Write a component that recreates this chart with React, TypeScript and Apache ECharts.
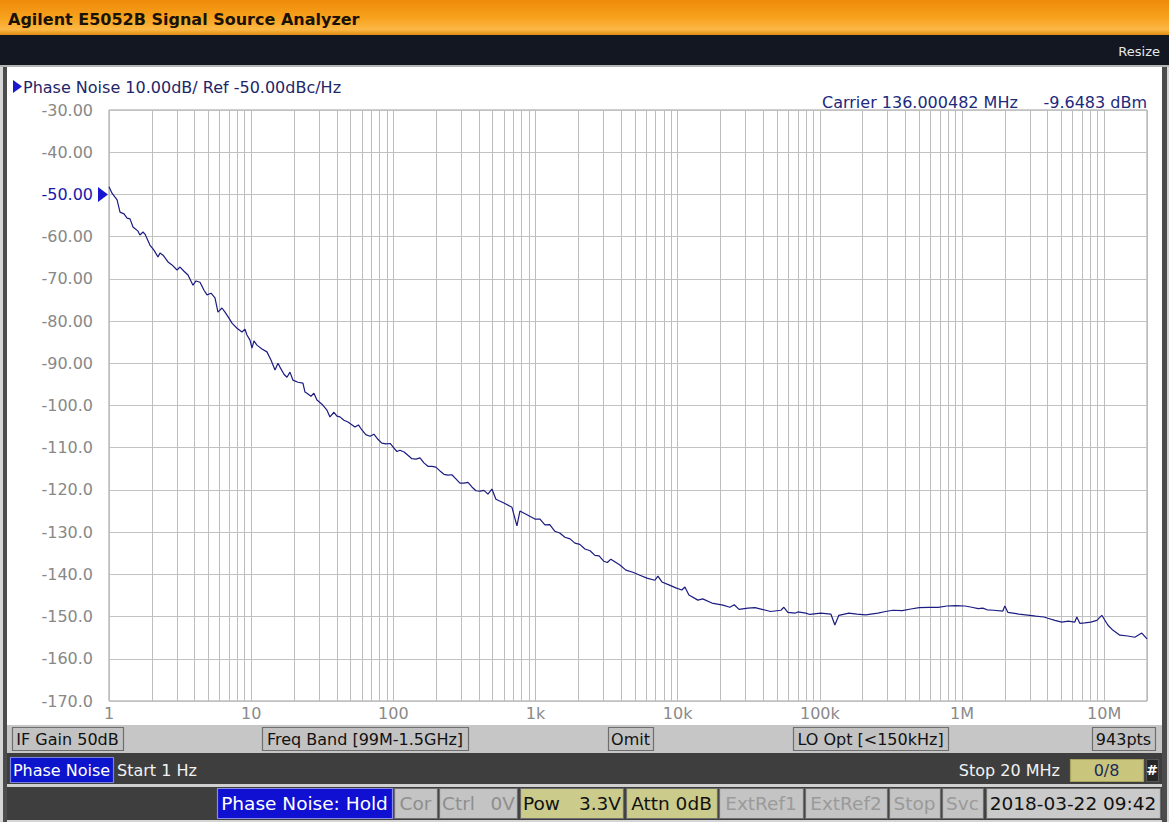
import React, { useEffect, useRef } from 'react';
import * as echarts from 'echarts';

const freqHz = [
  1, 1.05, 1.14, 1.195, 1.275, 1.34, 1.405, 1.475, 1.6, 1.65, 1.735, 1.79, 1.94, 2.07, 2.21, 2.285, 2.4, 2.6, 2.775,
  3.01, 3.16, 3.37, 3.595, 3.895, 4.09, 4.365, 4.66, 4.89, 5.22, 5.565, 5.84, 6.23, 6.545, 6.98, 7.33, 7.95, 8.615,
  9.045, 9.34, 9.81, 10.13, 10.46, 10.98, 11.91, 12.91, 13.78, 14.71, 15.44, 15.94, 17.01, 17.86, 18.75, 19.68, 21.34,
  23.13, 23.89, 24.69, 26.33, 27.64, 29.02, 31.47, 34.13, 35.83, 38.22, 40.12, 42.12, 44.95, 47.94,
  53.7, 56.8, 60.1, 64, 68.5, 73, 77.9, 83, 88.7, 95, 101, 106, 111.3, 119, 126.7, 135, 144.2, 154, 164.1, 175,
  186.8, 199, 212.7, 227, 242.1, 258, 275.5, 294, 313.6, 335, 357, 381, 406.4, 434, 462.7, 493.6, 526.6, 599.5,
  682.3, 740, 776.8, 884.3, 990.4, 1075, 1165, 1260, 1369, 1480, 1610, 1750, 1893, 2050, 2226, 2420, 2617, 2800,
  3027, 3200, 3389, 3923, 4323, 4842, 5423, 6074, 6914, 7259, 7745, 8672, 9712, 10700, 11240, 11990, 13870, 15000,
  17400, 20800, 23290, 25000, 27000, 31170, 35000, 41730, 45000, 53190, 55840, 59570, 66710, 70000, 79700, 85000,
  101600, 119500, 127500, 136000, 160000, 182000, 210000, 255800, 290000, 326200, 380000, 436500, 500000, 584300,
  680000, 781800, 900000, 1046000, 1172000, 1300000, 1401000, 1500000, 1673000, 1936000, 2000000, 2100000, 2508000,
  2999000, 3300000, 3760000, 4013000, 4500000, 5033000, 5600000, 6212000, 6417000, 6735000, 7300000, 8050000,
  8870000, 9620000, 10600000, 11490000, 12880000, 14660000, 16410000, 18380000, 20000000,
];
const phaseNoise = [
  -48.2, -49.7, -51.3, -54.2, -54.6, -55.6, -55.8, -57.7, -58.7, -59.6, -58.9, -59.4, -62.0, -63.2, -64.8, -63.9, -64.4, -66.0, -66.7,
  -67.9, -67.2, -68.2, -69.1, -71.5, -70.5, -70.8, -72.7, -73.8, -73.4, -74.5, -77.9, -76.9, -77.9, -79.3, -80.5, -81.7, -82.6,
  -81.9, -83.3, -84.5, -86.4, -84.7, -85.7, -86.6, -87.3, -89.2, -91.6, -90.0, -90.9, -92.6, -93.3, -92.1, -94.0, -94.5,
  -94.7, -96.8, -97.1, -97.8, -97.1, -98.7, -99.7, -101.1, -102.7, -101.6, -102.5, -102.7, -103.5, -103.9,
  -105.1, -104.6, -105.8, -106.9, -107.3, -106.8, -108.0, -108.9, -109.1, -109.0, -110.1, -110.9, -110.6, -111.0, -111.8, -112.6, -112.7, -112.4, -113.6, -114.4,
  -114.4, -114.6, -115.5, -116.3, -116.5, -116.4, -117.4, -118.4, -118.4, -118.2, -119.3, -120.2, -120.3, -120.1, -121.0, -119.8, -122.2, -123.1,
  -124.1, -128.5, -125.0, -126.0, -126.9, -126.9, -128.3, -128.2, -129.8, -130.2, -131.2, -131.6, -132.6, -132.9, -134.0, -134.4, -135.5, -135.6,
  -136.9, -137.2, -136.4, -137.8, -139.0, -139.5, -140.2, -140.9, -141.4, -140.4, -141.8, -142.5, -143.2, -143.7, -143.0, -144.9, -146.1, -145.8,
  -146.8, -147.3, -147.8, -147.2, -148.3, -148.0, -147.9, -148.5, -148.8, -148.5, -147.8, -149.0, -149.2, -148.9, -149.2, -149.5,
  -149.2, -149.4, -152.0, -149.7, -149.2, -149.4, -149.6, -149.2, -148.8, -148.5, -148.6, -148.2, -147.9, -147.8,
  -147.8, -147.5, -147.4, -147.5, -147.8, -148.1, -148.0, -148.4, -148.5, -148.7, -147.5, -149.0, -149.4,
  -149.7, -149.9, -150.1, -150.4, -150.9, -151.3, -151.1, -151.3, -150.1, -151.6, -151.5, -151.3,
  -150.9, -149.7, -152.0, -153.2, -154.4, -154.6, -154.9, -153.9, -155.3,
];

const xMin = 1;
const xMax = 2e7;
const yMin = -170;
const yMax = -30;
const yStep = 10;
const refLevel = -50;
const decadeStarts = [1, 10, 100, 1e3, 1e4, 1e5, 1e6];
const minorMultipliers = [2, 3, 4, 5, 6, 7, 8, 9];
const xTickLabels: Record<number, string> = { 0: '1', 1: '10', 2: '100', 3: '1k', 4: '10k', 5: '100k', 6: '1M', 7: '10M' };

const FONT = '"DejaVu Sans", Verdana, sans-serif';

function txt(text: string, x: number, y: number, size: number, fill: string, align = 'left', weight = 'normal') {
  return {
    type: 'text',
    x,
    y,
    z: 50,
    silent: true,
    style: {
      text,
      fill,
      font: `${weight} ${size}px ${FONT}`,
      textAlign: align,
      align,
      textVerticalAlign: 'middle',
      verticalAlign: 'middle',
    },
  };
}

function box(x: number, y: number, w: number, h: number, fill: string, stroke = '#6e6e6e') {
  return {
    type: 'rect',
    z: 10,
    silent: true,
    shape: { x: x + 0.5, y: y + 0.5, width: w, height: h },
    style: { fill, stroke, lineWidth: 1.2 },
  };
}

function bg(x: number, y: number, w: number, h: number, fill: any) {
  return { type: 'rect', z: -5, silent: true, shape: { x, y, width: w, height: h }, style: { fill } };
}

export default function App() {
  const ref = useRef<HTMLDivElement>(null);
  useEffect(() => {
    if (!ref.current) return;
    const chart = echarts.init(ref.current, undefined, { renderer: 'svg' });
    const minorGridFreqs = decadeStarts.flatMap((d) => minorMultipliers.map((m) => m * d));
    const traceData = freqHz.map((f, i) => [f, phaseNoise[i]]);

    const row1Y = 727;
    const row1H = 23;
    const stY = 788;
    const stH = 30;
    const stC = stY + stH / 2;

    const graphics: any[] = [
      bg(0, 0, 1169, 822, '#d6d6d6'),
      bg(0, 0, 1169, 36, new echarts.graphic.LinearGradient(0, 0, 0, 1, [
        { offset: 0, color: '#ef8a0a' },
        { offset: 0.5, color: '#f7a21e' },
        { offset: 0.82, color: '#fcb846' },
        { offset: 1, color: '#d98208' },
      ])),
      bg(0, 35, 1169, 30, '#121722'),
      bg(0, 65, 1169, 2, '#b4b4b4'),
      bg(7, 67, 1155, 658, '#ffffff'),
      bg(3, 67, 4, 755, '#4c4c4c'),
      bg(1162, 67, 5, 755, '#4c4c4c'),
      bg(7, 725, 1155, 28, '#c6c6c6'),
      bg(7, 753, 1155, 31, '#3e3e3e'),
      bg(7, 784, 1155, 3, '#d0d0d0'),
      bg(7, 787, 1155, 33, '#3e3e3e'),
      txt('Agilent E5052B Signal Source Analyzer', 8, 19, 16, '#1b1206', 'left', 'bold'),
      txt('Resize', 1160, 51, 13, '#e6e6e6', 'right'),
      {
        type: 'polygon', z: 50, silent: true,
        shape: { points: [[13, 80], [13, 93], [22, 86.5]] },
        style: { fill: '#1a1ad0' },
      },
      txt('Phase Noise 10.00dB/ Ref -50.00dBc/Hz', 23, 87, 16, '#1e2668'),
      txt('Carrier 136.000482 MHz', 822, 102, 16, '#1c2a7c'),
      txt('-9.6483 dBm', 1147, 102, 16, '#1c2a7c', 'right'),
      // row 1 boxes
      box(12, row1Y, 111, row1H, '#c2c2c2'),
      txt('IF Gain 50dB', 67.5, row1Y + row1H / 2 + 1, 16, '#111111', 'center'),
      box(262, row1Y, 206, row1H, '#c2c2c2'),
      txt('Freq Band [99M-1.5GHz]', 365, row1Y + row1H / 2 + 1, 16, '#111111', 'center'),
      box(608, row1Y, 45, row1H, '#c2c2c2'),
      txt('Omit', 630.5, row1Y + row1H / 2 + 1, 16, '#111111', 'center'),
      box(793, row1Y, 155, row1H, '#c2c2c2'),
      txt('LO Opt [<150kHz]', 870.5, row1Y + row1H / 2 + 1, 16, '#111111', 'center'),
      box(1092, row1Y, 63, row1H, '#c2c2c2'),
      txt('943pts', 1123.5, row1Y + row1H / 2 + 1, 16, '#111111', 'center'),
      // row 2
      box(10, 757, 103, 25, '#0c14cc', '#7a84e0'),
      txt('Phase Noise', 61.5, 770, 16, '#ffffff', 'center'),
      txt('Start 1 Hz', 117, 770, 16, '#f2f2f2'),
      txt('Stop 20 MHz', 1060, 770, 16, '#f2f2f2', 'right'),
      box(1070, 759, 73, 22, '#c9c57c', '#a8a460'),
      txt('0/8', 1106.5, 770, 16, '#1d2a5a', 'center'),
      box(1146, 759, 12, 22, '#262626', '#555555'),
      txt('#', 1152, 770, 14, '#ffffff', 'center', 'bold'),
      // status row
      box(217, stY, 175, stH, '#1010d2', '#8a8ae8'),
      txt('Phase Noise: Hold', 304.5, stC, 18.5, '#ffffff', 'center'),
      box(394, stY, 43, stH, '#c4c4c4'),
      txt('Cor', 415.5, stC, 18.5, '#8e8e8e', 'center'),
      box(439, stY, 78, stH, '#c4c4c4'),
      txt('Ctrl', 442, stC, 18.5, '#8e8e8e'),
      txt('0V', 515, stC, 18.5, '#8e8e8e', 'right'),
      box(520, stY, 103, stH, '#cbcb8c'),
      txt('Pow', 523, stC, 18.5, '#111111'),
      txt('3.3V', 621, stC, 18.5, '#111111', 'right'),
      box(626, stY, 91, stH, '#cbcb8c'),
      txt('Attn 0dB', 671.5, stC, 18.5, '#111111', 'center'),
      box(719, stY, 84, stH, '#c4c4c4'),
      txt('ExtRef1', 761, stC, 18.5, '#9a9a9a', 'center'),
      box(805, stY, 82, stH, '#c4c4c4'),
      txt('ExtRef2', 846, stC, 18.5, '#9a9a9a', 'center'),
      box(889, stY, 51, stH, '#c4c4c4'),
      txt('Stop', 914.5, stC, 18.5, '#9a9a9a', 'center'),
      box(942, stY, 41, stH, '#c4c4c4'),
      txt('Svc', 962.5, stC, 18.5, '#9a9a9a', 'center'),
      box(986, stY, 174, stH, '#cacaca'),
      txt('2018-03-22 09:42', 1073, stC, 18.5, '#111111', 'center'),
    ];

    chart.setOption({
      animation: false,
      textStyle: { fontFamily: FONT },
      grid: {
        left: 109,
        right: 22,
        top: 110,
        bottom: 121,
        show: true,
        backgroundColor: 'transparent',
        borderColor: '#9c9c9c',
        borderWidth: 1,
      },
      xAxis: {
        type: 'log',
        logBase: 10,
        min: xMin,
        max: xMax,
        axisLine: { show: false },
        axisTick: { show: false },
        splitLine: { show: true, lineStyle: { color: '#bdbdbd', width: 1 } },
        axisLabel: {
          color: '#8a8a8a',
          fontSize: 16,
          fontFamily: FONT,
          margin: 4,
          showMaxLabel: false,
          formatter: (v: number) => {
            const lg = Math.log10(v);
            const r = Math.round(lg);
            if (Math.abs(lg - r) > 1e-6) return '';
            return xTickLabels[r] ?? '';
          },
        },
      },
      yAxis: {
        type: 'value',
        min: yMin,
        max: yMax,
        interval: yStep,
        axisLine: { show: false },
        axisTick: { show: false },
        splitLine: { show: true, lineStyle: { color: '#c2c2c2', width: 1 } },
        axisLabel: {
          color: '#888888',
          fontSize: 16,
          fontFamily: FONT,
          margin: 16,
          formatter: (v: number) => {
            const s = v > -100 ? v.toFixed(2) : v.toFixed(1);
            return v === refLevel ? `{b|${s}}` : s;
          },
          rich: { b: { color: '#1a1aa8', fontSize: 16, fontFamily: FONT } },
        },
      },
      series: [
        {
          type: 'line',
          data: [[xMin, yMin]],
          symbol: 'none',
          lineStyle: { opacity: 0 },
          silent: true,
          z: 1,
          markLine: {
            silent: true,
            z: 1,
            symbol: ['none', 'none'],
            label: { show: false },
            emphasis: { disabled: true },
            lineStyle: { color: '#bdbdbd', width: 1, type: 'solid' },
            data: minorGridFreqs.map((f) => ({ xAxis: f })),
          },
        },
        {
          type: 'line',
          data: traceData,
          symbol: 'none',
          showSymbol: false,
          z: 3,
          lineStyle: { color: '#1c1c82', width: 1.2 },
          markPoint: {
            silent: true,
            symbol: 'triangle',
            symbolSize: [15, 10],
            symbolRotate: -90,
            symbolOffset: [-6, 0],
            label: { show: false },
            itemStyle: { color: '#1616d0' },
            data: [{ coord: [xMin, refLevel] }],
          },
        },
      ],
      graphic: graphics,
    });
    return () => chart.dispose();
  }, []);
  return <div ref={ref} style={{ position: 'absolute', left: 0, top: 0, width: 1169, height: 822 }} />;
}
